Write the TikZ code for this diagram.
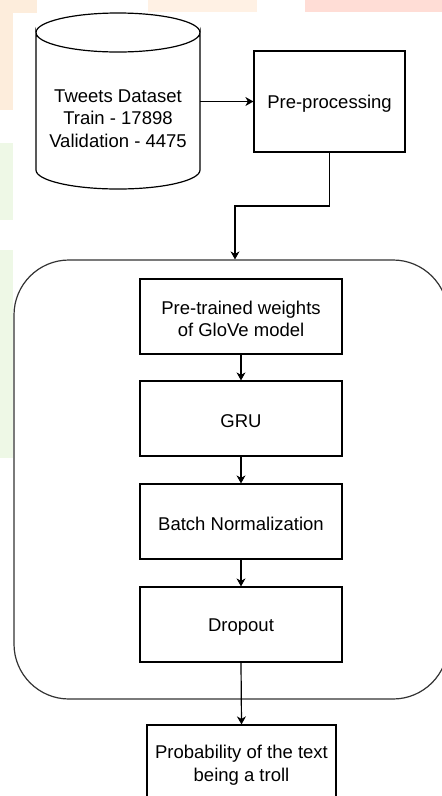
\documentclass[tikz,border=0pt]{standalone}
\usepackage{fontspec}
\setmainfont{Liberation Sans}
\usetikzlibrary{arrows.meta}
\definecolor{peach}{HTML}{FDEDDC}
\definecolor{peachlt}{HTML}{FFF1E4}
\definecolor{pinklt}{HTML}{FFDDD6}
\definecolor{greenlt}{HTML}{EEF8E6}
\tikzset{
  box/.style={draw=black, line width=1.2pt, rectangle, inner sep=0pt},
  arr/.style={draw=black, line width=1.2pt, -{Stealth[length=8pt,width=9pt,inset=2.5pt]}},
  outline/.style={draw=black!80, line width=1.2pt},
  txt/.style={align=center, font=\fontsize{18.5}{22.5}\selectfont, inner sep=0pt},
}
\begin{document}
\begin{tikzpicture}[x=1pt,y=-1pt]
\useasboundingbox (0,0) rectangle (442,796);
\clip (0,0) rectangle (442,796);
% background
\fill[white] (0,0) rectangle (442,796);
\fill[peach] (0,0) rectangle (37,13);
\fill[peach] (0,13) rectangle (13,110);
\fill[peachlt] (148,0) rectangle (257,12);
\fill[pinklt] (305,0) rectangle (442,12);
\fill[greenlt] (0,143) rectangle (13,220);
\fill[greenlt] (0,250) rectangle (13,458);

% container
\node[outline, rectangle, rounded corners=55pt, minimum width=434pt, minimum height=439pt] (cont) at (231,479.5) {};

% cylinder (dataset)
\node[minimum width=164pt, minimum height=176pt, inner sep=0pt] (ds) at (118,101) {};
\draw[outline, draw=black, fill=white] (36,32.5) -- (36,170) arc[start angle=180, end angle=360, x radius=82pt, y radius=19pt] -- (200,32.5) arc[start angle=0, end angle=-180, x radius=82pt, y radius=19.5pt] -- cycle;
\draw[outline, draw=black] (36,32.5) arc[start angle=180, end angle=360, x radius=82pt, y radius=-19.5pt];
\node[txt] (dstxt) at (118,118.5) {Tweets Dataset\\Train - 17898\\Validation - 4475};

% boxes
\node[box, minimum width=151pt, minimum height=101pt] (pre) at (329.5,101.5) {};
\node[box, minimum width=202pt, minimum height=75pt] (glove) at (241,316.5) {};
\node[box, minimum width=202pt, minimum height=75pt] (gru) at (241,418.5) {};
\node[box, minimum width=202pt, minimum height=75pt] (bn) at (241,521.5) {};
\node[box, minimum width=202pt, minimum height=75pt] (drop) at (241,624.5) {};
\node[box, minimum width=189pt, minimum height=75pt] (prob) at (241.5,762.5) {};

% texts
\node[txt] (pre-t) at ([yshift=-2.5pt]pre.center) {Pre-processing};
\node[txt] (glove-t) at ([yshift=-2.5pt]glove.center) {Pre-trained weights\\of GloVe model};
\node[txt] (gru-t) at ([yshift=-3pt]gru.center) {GRU};
\node[txt] (bn-t) at ([yshift=-2.5pt]bn.center) {Batch Normalization};
\node[txt] (drop-t) at ([yshift=-2.5pt]drop.center) {Dropout};
\node[txt] (prob-t) at ([yshift=-2.5pt]prob.center) {Probability of the text\\being a troll};

% connectors
\draw[arr] (ds.east |- pre.west) -- (pre.west);
\coordinate (bend) at (235,206);
\draw[arr] (pre.south) |- (bend) -- (bend |- cont.north);
\draw[arr] (glove.south) -- (gru.north);
\draw[arr] (gru.south) -- (bn.north);
\draw[arr] (bn.south) -- (drop.north);
\draw[arr] (drop.south) -- (prob.north);
\end{tikzpicture}
\end{document}
